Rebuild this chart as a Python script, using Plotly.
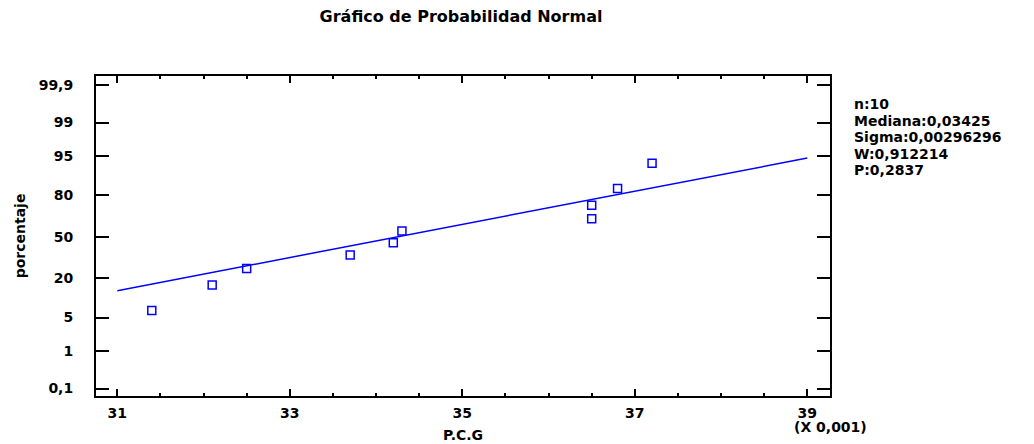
from statistics import NormalDist
import plotly.graph_objects as go

# P.C.G values (units of 0.001) and their plotting percentages
pcg = [31.4, 32.1, 32.5, 33.7, 34.2, 34.3, 36.5, 36.5, 36.8, 37.2]
percent = [6.7, 16.3, 26.0, 35.6, 45.2, 54.8, 64.4, 74.0, 83.7, 93.3]

# fitted normal reference line
mediana = 34.25
sigma = 2.96296
line_x = [31, 39]

# axis ticks
x_ticks = [31, 33, 35, 37, 39]
y_tick_pct = [0.1, 1, 5, 20, 50, 80, 95, 99, 99.9]
y_tick_text = ["0,1", "1", "5", "20", "50", "80", "95", "99", "99,9"]

stats_lines = ["n:10", "Mediana:0,03425", "Sigma:0,00296296", "W:0,912214", "P:0,2837"]

nd = NormalDist()
z_pts = [nd.inv_cdf(p / 100) for p in percent]
z_ticks = [nd.inv_cdf(p / 100) for p in y_tick_pct]
line_z = [(x - mediana) / sigma for x in line_x]

BLUE = "#0000ff"
FONT = "DejaVu Sans, Arial, sans-serif"

# plot-area geometry in pixels
W, H = 1034, 444
L, R, T, B = 96, 830, 76, 396


def px_x(p):
    return (p - L) / (R - L)


def px_y(p):
    return (B - p) / (B - T)


def bold(size):
    return dict(family=FONT, size=size, color="black", weight="bold")


fig = go.Figure()
fig.add_trace(go.Scatter(
    x=line_x, y=line_z, mode="lines",
    line=dict(color=BLUE, width=1.5), hoverinfo="skip", showlegend=False,
))
fig.add_trace(go.Scatter(
    x=pcg, y=z_pts, mode="markers",
    marker=dict(symbol="square-open", size=8, color=BLUE, line=dict(width=1.5, color=BLUE)),
    showlegend=False,
))

axis_common = dict(
    showgrid=False, zeroline=False, showline=True, linecolor="black", linewidth=2,
    mirror="allticks", ticks="inside", tickcolor="black", tickwidth=2,
    tickfont=bold(14), automargin=False,
)

fig.update_xaxes(
    **axis_common,
    range=[30.753, 39.263], tickvals=x_ticks, ticktext=[str(v) for v in x_ticks],
    ticklen=7, ticklabelstandoff=3,
    minor=dict(dtick=0.5, tick0=31, ticks="inside", ticklen=3, tickwidth=2, tickcolor="black"),
    title=dict(text="P.C.G", font=bold(14), standoff=10),
)
fig.update_yaxes(
    **axis_common,
    range=[-3.242, 3.275], tickvals=z_ticks, ticktext=y_tick_text,
    ticklen=13, ticklabelstandoff=18,
    title=dict(text="porcentaje", font=bold(14), standoff=10),
)

# summary statistics, one line per annotation
for i, txt in enumerate(stats_lines):
    fig.add_annotation(
        xref="paper", yref="paper", x=px_x(852), y=px_y(104 + 16.5 * i),
        xanchor="left", yanchor="middle", text=txt, showarrow=False, font=bold(14),
    )

fig.add_annotation(
    xref="paper", yref="paper", x=px_x(792), y=px_y(427), xanchor="left", yanchor="middle",
    text="(X 0,001)", showarrow=False, font=bold(14),
)

fig.update_layout(
    width=W, height=H,
    margin=dict(l=L, r=W - R, t=T, b=H - B, autoexpand=False),
    paper_bgcolor="white", plot_bgcolor="white",
    title=dict(text="Gráfico de Probabilidad Normal", x=461 / W, xanchor="center",
               y=1 - 16 / H, yanchor="middle", yref="container", font=bold(16)),
    separators=", ",
)

fig.write_html("out.html")
